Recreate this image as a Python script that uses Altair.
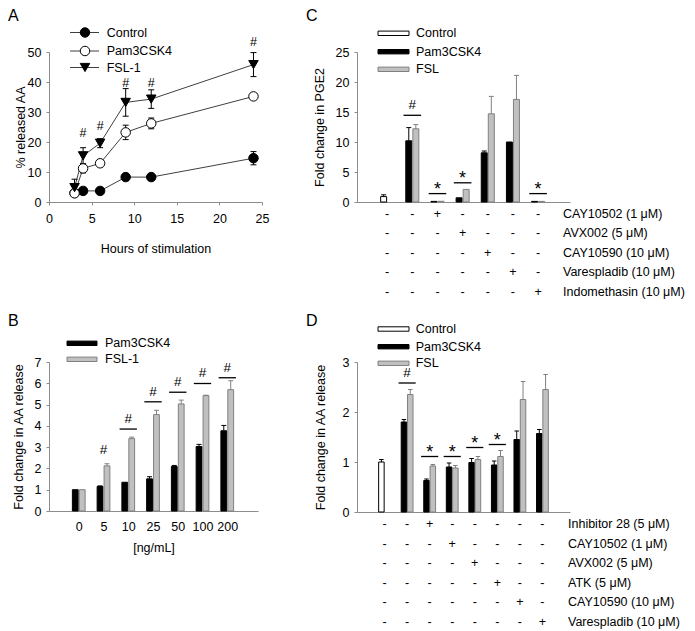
import json
import altair as alt
import pandas as pd

FONT = "Liberation Sans"
FS = 12.5
AXIS_GRAY = "#8c8c8c"
LINE_GRAY = "#404040"
BAR_GRAY = "#c0c0c0"
EDGE_GRAY = "#808080"

# ---------------- Panel A data ----------------
A_series = ["Control", "Pam3CSK4", "FSL-1"]
A_hours = [3, 4, 6, 9, 12, 24]
A_control = [3.0, 3.7, 3.7, 8.3, 8.3, 14.6]
A_control_err = [0.4, 0.5, 0.5, 0.6, 0.6, 2.2]
A_pam = [2.9, 11.2, 12.9, 23.2, 26.2, 35.2]
A_pam_err = [0.8, 1.5, 0.8, 2.4, 1.8, 1.0]
A_fsl = [4.8, 15.4, 19.6, 33.2, 34.3, 45.8]
A_fsl_err = [2.8, 2.7, 1.5, 4.6, 3.1, 4.0]
A_hash_hours = [4, 6, 9, 12, 24]
A_hash_y = [22.9, 25.2, 39.8, 39.8, 53.3]

# ---------------- Panel B data ----------------
B_series = ["Pam3CSK4", "FSL-1"]
B_conc = ["0", "5", "10", "25", "50", "100", "200"]
B_pam = [1.0, 1.15, 1.35, 1.51, 2.09, 3.03, 3.77]
B_pam_err = [0.0, 0.03, 0.0, 0.1, 0.05, 0.1, 0.25]
B_fsl = [1.0, 2.12, 3.4, 4.53, 5.03, 5.42, 5.7]
B_fsl_err = [0.0, 0.1, 0.07, 0.2, 0.18, 0.02, 0.42]
B_sig_groups = [1, 2, 3, 4, 5, 6]
B_sig_symbols = ["#", "#", "#", "#", "#", "#"]
B_sig_level = [2.4, 3.85, 5.13, 5.58, 5.99, 6.26]
B_sig_line = [False, True, True, True, True, True]

# ---------------- Panel C data ----------------
C_series = ["Control", "Pam3CSK4", "FSL"]
C_control = [0.9, None, None, None, None, None, None]
C_control_err = [0.3, None, None, None, None, None, None]
C_pam = [None, 10.2, 0.1, 0.7, 8.2, 10.0, 0.1]
C_pam_err = [None, 2.2, 0.0, 0.0, 0.3, 0.0, 0.0]
C_fsl = [None, 12.2, 0.12, 2.1, 14.7, 17.1, 0.1]
C_fsl_err = [None, 0.7, 0.0, 0.0, 2.9, 4.0, 0.0]
C_sig_groups = [1, 2, 3, 6]
C_sig_symbols = ["#", "*", "*", "*"]
C_sig_level = [14.45, 1.4, 3.2, 1.4]
C_sig_line = [True, True, True, True]
C_treatments = ["CAY10502 (1 μM)", "AVX002 (5 μM)", "CAY10590 (10 μM)",
                "Varespladib (10 μM)", "Indomethasin (10 μM)"]
C_treatment_group = [2, 3, 4, 5, 6]

# ---------------- Panel D data ----------------
D_series = ["Control", "Pam3CSK4", "FSL"]
D_control = [1.0, None, None, None, None, None, None, None]
D_control_err = [0.05, None, None, None, None, None, None, None]
D_pam = [None, 1.8, 0.63, 0.9, 0.99, 0.94, 1.45, 1.57]
D_pam_err = [None, 0.05, 0.03, 0.08, 0.08, 0.08, 0.17, 0.08]
D_fsl = [None, 2.35, 0.92, 0.88, 1.05, 1.11, 2.25, 2.45]
D_fsl_err = [None, 0.1, 0.03, 0.05, 0.06, 0.12, 0.36, 0.3]
D_sig_groups = [1, 2, 3, 4, 5]
D_sig_symbols = ["#", "*", "*", "*", "*"]
D_sig_level = [2.58, 1.11, 1.11, 1.29, 1.35]
D_sig_line = [True, True, True, True, True]
D_treatments = ["Inhibitor 28 (5 μM)", "CAY10502 (1 μM)", "AVX002 (5 μM)",
                "ATK (5 μM)", "CAY10590 (10 μM)", "Varespladib (10 μM)"]
D_treatment_group = [2, 3, 4, 5, 6, 7]

OFFSET = {"Control": -0.14, "Pam3CSK4": -0.14, "FSL": 0.14, "FSL-1": 0.14}
FILL = {"Control": "white", "Pam3CSK4": "black", "FSL": BAR_GRAY, "FSL-1": BAR_GRAY}
EDGE = {"Control": "black", "Pam3CSK4": "black", "FSL": EDGE_GRAY, "FSL-1": EDGE_GRAY}
A_SHAPE = {"Control": "circle", "Pam3CSK4": "circle", "FSL-1": "triangle-down"}
A_FILL = {"Control": "black", "Pam3CSK4": "white", "FSL-1": "black"}


def one(text):
    return pd.DataFrame({"t": [text]})


def letter_layer(letter, x, y):
    return alt.Chart(one(letter)).mark_text(
        align="left", baseline="top", fontSize=16, font=FONT, color="black"
    ).encode(x=alt.value(x), y=alt.value(y), text="t:N")


def label_layer(text, x, y, align="left"):
    return alt.Chart(one(text)).mark_text(
        align=align, baseline="middle", fontSize=FS, font=FONT, color="black"
    ).encode(x=alt.value(x), y=alt.value(y), text="t:N")


# ======================= Panel A =======================
a_rows = []
for name, vals, errs in [("Control", A_control, A_control_err),
                         ("Pam3CSK4", A_pam, A_pam_err),
                         ("FSL-1", A_fsl, A_fsl_err)]:
    for h, v, e in zip(A_hours, vals, errs):
        a_rows.append(dict(series=name, hour=h, value=v, lo=v - e, hi=v + e,
                           shp=A_SHAPE[name], fc=A_FILL[name]))
dfA = pd.DataFrame(a_rows)
capsA = pd.concat([dfA.assign(cy=dfA["lo"]), dfA.assign(cy=dfA["hi"])])
capsA = capsA.assign(h1=capsA["hour"] - 0.35, h2=capsA["hour"] + 0.35)
hashA = pd.DataFrame({"hour": A_hash_hours, "hy": A_hash_y, "s": ["#"] * len(A_hash_hours)})

A_xscale = alt.Scale(domain=[0, 25], nice=False, zero=False)
A_xaxis = alt.Axis(values=[0, 5, 10, 15, 20, 25], title="Hours of stimulation",
                   tickSize=3, labelPadding=7, titleY=50, titleBaseline="alphabetic")
A_yscale = alt.Scale(domain=[0, 50], nice=False)
A_yaxis = alt.Axis(values=[0, 10, 20, 30, 40, 50], title="% released AA",
                   tickSize=3, labelPadding=5, titleX=-25, titleBaseline="alphabetic")


def AX(f):
    return alt.X(f + ":Q", scale=A_xscale, axis=A_xaxis)


def AY(f):
    return alt.Y(f + ":Q", scale=A_yscale, axis=A_yaxis)


a_layers = [
    alt.Chart(dfA).mark_line(color=LINE_GRAY, strokeWidth=1).encode(
        x=AX("hour"), y=AY("value"), detail="series:N"),
    alt.Chart(dfA).mark_rule(color="black", strokeWidth=1).encode(
        x=AX("hour"), y=AY("lo"), y2="hi:Q"),
    alt.Chart(capsA).mark_rule(color="black", strokeWidth=1).encode(
        x=AX("h1"), x2="h2:Q", y=AY("cy")),
    alt.Chart(dfA).mark_point(filled=True, stroke="black", strokeWidth=1, opacity=1).encode(
        x=AX("hour"), y=AY("value"),
        shape=alt.Shape("shp:N", scale=None),
        fill=alt.Fill("fc:N", scale=None),
        size=alt.value(90)),
    alt.Chart(hashA).mark_text(fontSize=FS, font=FONT, color="black", baseline="middle").encode(
        x=AX("hour"), y=AY("hy"), text="s:N"),
]
A_leg_y = [-19.5, -1, 15.5]
for name, yy in zip(A_series, A_leg_y):
    d = one(name)
    a_layers.append(alt.Chart(d).mark_rule(color=LINE_GRAY, strokeWidth=1).encode(
        x=alt.value(21), x2=alt.value(50), y=alt.value(yy)))
    a_layers.append(alt.Chart(d).mark_point(filled=True, shape=A_SHAPE[name], fill=A_FILL[name],
                                            stroke="black", strokeWidth=1, opacity=1,
                                            size=90).encode(
        x=alt.value(36), y=alt.value(yy)))
    a_layers.append(label_layer(name, 57.7, yy))
a_layers.append(letter_layer("A", -41, -44))
panelA = alt.layer(*a_layers).properties(width=213, height=150)


# ======================= Bar panels =======================
def bar_frame(spec):
    rows = []
    for name, vals, errs in spec:
        for g, (v, e) in enumerate(zip(vals, errs)):
            if v is None:
                continue
            rows.append(dict(g=g, series=name, value=v, err=e))
    df = pd.DataFrame(rows)
    df["pos"] = df["g"] + df["series"].map(OFFSET)
    df["top"] = df["value"] + df["err"]
    df["c1"] = df["pos"] - 0.1
    df["c2"] = df["pos"] + 0.1
    df["fc"] = df["series"].map(FILL)
    df["sc"] = df["series"].map(EDGE)
    return df


def bar_panel(df, x_domain, x_axis, y_domain, y_values, y_title, y_title_x, bar_w,
              sig_groups, sig_symbols, sig_level, sig_line, sig_half,
              legend, legend_x, letter, letter_xy, table=None):
    xs = alt.Scale(domain=x_domain, nice=False, zero=False)
    ys = alt.Scale(domain=y_domain, nice=False)
    ya = alt.Axis(values=y_values, title=y_title, tickSize=3, labelPadding=5,
                  titleX=y_title_x, titleBaseline="alphabetic")

    def X(f):
        return alt.X(f + ":Q", scale=xs, axis=x_axis)

    def Y(f):
        return alt.Y(f + ":Q", scale=ys, axis=ya)

    fill = alt.Fill("fc:N", scale=None)
    stroke = alt.Stroke("sc:N", scale=None)
    errdf = df[df["err"] > 0]
    layers = [
        alt.Chart(df).mark_bar(size=bar_w, strokeWidth=1, orient="vertical").encode(
            x=X("pos"), y=Y("value"), y2=alt.datum(0), fill=fill, stroke=stroke),
        alt.Chart(errdf).mark_rule(strokeWidth=1).encode(
            x=X("pos"), y=Y("value"), y2="top:Q", stroke=stroke),
        alt.Chart(errdf).mark_rule(strokeWidth=1).encode(
            x=X("c1"), x2="c2:Q", y=Y("top"), stroke=stroke),
    ]
    sig = pd.DataFrame({"g": sig_groups, "s": sig_symbols, "lv": sig_level, "ln": sig_line})
    sig["g1"] = sig["g"] - sig_half
    sig["g2"] = sig["g"] + sig_half
    layers.append(alt.Chart(sig[sig["ln"]]).mark_rule(color="black", strokeWidth=1.3).encode(
        x=X("g1"), x2="g2:Q", y=Y("lv")))
    hashes = sig[sig["s"] == "#"]
    stars = sig[sig["s"] == "*"]
    if len(hashes):
        layers.append(alt.Chart(hashes).mark_text(fontSize=13.5, font=FONT, color="black",
                                                  baseline="alphabetic", dy=-6).encode(
            x=X("g"), y=Y("lv"), text="s:N"))
    if len(stars):
        layers.append(alt.Chart(stars).mark_text(fontSize=18, font=FONT, color="black",
                                                 baseline="alphabetic", dy=1).encode(
            x=X("g"), y=Y("lv"), text="s:N"))
    # legend
    x1, x2, tx = legend_x
    for name, yy in legend:
        layers.append(alt.Chart(one(name)).mark_rect(fill=FILL[name], stroke=EDGE[name],
                                                     strokeWidth=1).encode(
            x=alt.value(x1), x2=alt.value(x2), y=alt.value(yy - 2.2), y2=alt.value(yy + 2.2)))
        layers.append(label_layer(name, tx, yy))
    # treatment table
    if table is not None:
        labels, plus_groups, n, row_y0, row_dy, label_x = table
        for r, (lab, pg) in enumerate(zip(labels, plus_groups)):
            yy = row_y0 + row_dy * r
            td = pd.DataFrame({"g": list(range(n)),
                               "s": ["+" if g == pg else "-" for g in range(n)]})
            layers.append(alt.Chart(td).mark_text(fontSize=FS, font=FONT, color="black",
                                                  baseline="middle").encode(
                x=X("g"), y=alt.value(yy), text="s:N"))
            layers.append(label_layer(lab, label_x, yy))
    layers.append(letter_layer(letter, letter_xy[0], letter_xy[1]))
    return layers


noaxis_x = alt.Axis(ticks=False, labels=False, title=None, domain=True, grid=False)

# Panel B
dfB = bar_frame([("Pam3CSK4", B_pam, B_pam_err), ("FSL-1", B_fsl, B_fsl_err)])
B_xaxis = alt.Axis(values=list(range(len(B_conc))), ticks=False, labelPadding=9,
                   labelExpr=json.dumps(B_conc) + "[datum.value]",
                   title="[ng/mL]", titleY=40.5, titleBaseline="alphabetic")
b_layers = bar_panel(
    dfB, [-1, 7.04], B_xaxis, [0, 7], list(range(8)), "Fold change in AA release", -26.5, 5.8,
    B_sig_groups, B_sig_symbols, B_sig_level, B_sig_line, 0.35,
    list(zip(B_series, [-18.7, -2.7])), (18, 48, 56),
    "B", (-41, -49))
panelB = alt.layer(*b_layers).properties(width=209, height=149)

# Panel C
dfC = bar_frame([("Control", C_control, C_control_err), ("Pam3CSK4", C_pam, C_pam_err),
                 ("FSL", C_fsl, C_fsl_err)])
c_layers = bar_panel(
    dfC, [-1, 7.07], noaxis_x, [0, 25], [0, 5, 10, 15, 20, 25], "Fold change in PGE2", -34, 6,
    C_sig_groups, C_sig_symbols, C_sig_level, C_sig_line, 0.35,
    list(zip(C_series, [-18.7, -0.3, 17.3])), (21, 52, 59),
    "C", (-51, -44),
    table=(C_treatments, C_treatment_group, 7, 162, 19.4, 206))
panelC = alt.layer(*c_layers).properties(width=213, height=150)

# Panel D
dfD = bar_frame([("Control", D_control, D_control_err), ("Pam3CSK4", D_pam, D_pam_err),
                 ("FSL", D_fsl, D_fsl_err)])
d_layers = bar_panel(
    dfD, [-1, 8], noaxis_x, [0, 3], [0, 1, 2, 3], "Fold change in AA release", -33, 5.5,
    D_sig_groups, D_sig_symbols, D_sig_level, D_sig_line, 0.38,
    list(zip(D_series, [-33, -15.3, 1.3])), (21, 52, 58.7),
    "D", (-51, -49),
    table=(D_treatments, D_treatment_group, 8, 162, 19.6, 211))
panelD = alt.layer(*d_layers).properties(width=213, height=150)

chart = alt.concat(
    panelA, panelC, panelB, panelD, columns=2,
    spacing={"row": 160, "column": 95}, bounds="flush", padding=0
).configure_view(stroke=None).configure_axis(
    labelFont=FONT, titleFont=FONT, labelFontSize=FS, titleFontSize=FS,
    titleFontWeight="normal", labelColor="black", titleColor="black",
    domainColor=AXIS_GRAY, tickColor=AXIS_GRAY, grid=False, labelFlush=False
)

chart.save("out.html", embed_options={"renderer": "svg", "actions": False})
